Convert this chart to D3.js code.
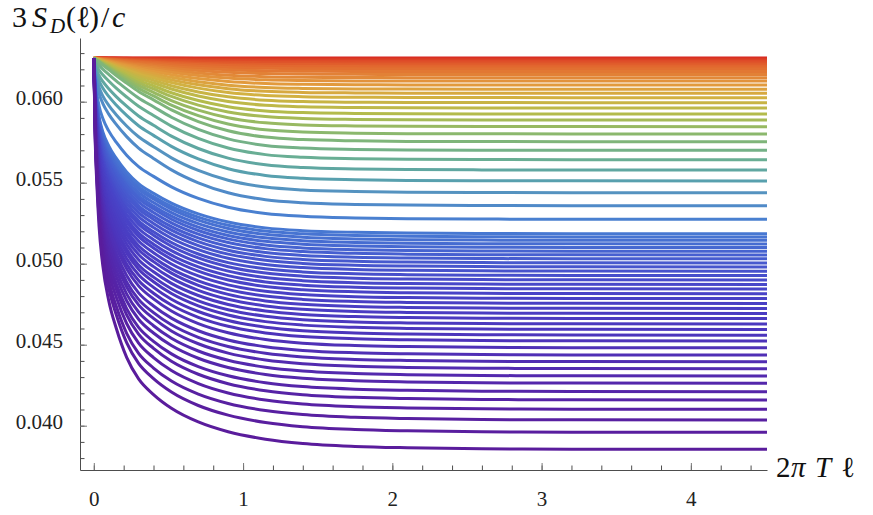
<!DOCTYPE html>
<html>
<head>
<meta charset="utf-8">
<script src="https://cdn.jsdelivr.net/npm/d3@7"></script>
<style>
    body { margin: 0; background: #fff; }
    svg { display: block; }
    text { font-family: "Liberation Serif", "DejaVu Serif", serif; }
</style>
</head>
<body>
<script>
let plateauLow = [0.03854, 0.03959, 0.04035, 0.04101, 0.04159, 0.04210, 0.04262, 0.04307, 0.04352, 0.04395,
    0.04436, 0.04481, 0.04523, 0.04559, 0.04594, 0.04628, 0.04661, 0.04693, 0.04724, 0.04755,
    0.04785, 0.04815, 0.04844, 0.04872, 0.04900, 0.04927, 0.04954, 0.04980, 0.05005, 0.05030,
    0.05054, 0.05077, 0.05100, 0.05122, 0.05144, 0.05165, 0.05185];
let plateauHigh = [0.05274, 0.05358, 0.05438, 0.05511, 0.05578, 0.05642, 0.05700, 0.05753, 0.05801, 0.05846,
    0.05887, 0.05924, 0.05961, 0.05994, 0.06025, 0.06052, 0.06077, 0.06103, 0.06127, 0.06148,
    0.06168, 0.06186, 0.06202, 0.06216, 0.06228, 0.06239, 0.06248, 0.06256, 0.06262, 0.06266, 0.06269];
// every curve starts from the same point at 2πTl = 0
let startValue = 0.06270;

// how soft each curve bends (0 = steep drop like the bottom curve, 1 = soft like the green ones)
let mixLow = [0.00, 0.01, 0.01, 0.02, 0.03, 0.03, 0.04, 0.05, 0.06, 0.06,
    0.07, 0.08, 0.08, 0.09, 0.10, 0.10, 0.11, 0.12, 0.13, 0.13,
    0.14, 0.15, 0.15, 0.16, 0.17, 0.17, 0.18, 0.19, 0.20, 0.20,
    0.21, 0.22, 0.22, 0.23, 0.24, 0.24, 0.25];
let mixHigh = [0.35, 0.50, 0.56, 0.64, 0.72, 0.82, 0.92, 1, 1, 1,
    1, 1, 1, 1, 1, 1, 1, 1, 1, 1,
    1, 1, 1, 1, 1, 1, 1, 1, 1, 1, 1];

// fraction of the drop still left
let profileX = [0, 0.01, 0.02, 0.035, 0.06, 0.1, 0.15, 0.22, 0.3, 0.4, 0.52, 0.7, 0.9, 1.15, 1.4, 1.75, 2.1, 2.6, 3.2, 4.51];
let profileSteep = [1, 0.78, 0.68, 0.57, 0.47, 0.38, 0.31, 0.235, 0.18, 0.14, 0.105, 0.07, 0.045, 0.026, 0.015, 0.0075, 0.004, 0.0015, 0.0005, 0];
let profileSoft = [1, 0.985, 0.97, 0.95, 0.915, 0.86, 0.79, 0.7, 0.6, 0.5, 0.38, 0.24, 0.13, 0.055, 0.025, 0.01, 0.004, 0.0015, 0.0005, 0];

let xTicks = [0, 1, 2, 3, 4];
let yTicks = [0.040, 0.045, 0.050, 0.055, 0.060];

let colorPos = [0, 0.10, 0.20, 0.33, 0.45, 0.537, 0.552, 0.582, 0.597, 0.627, 0.672, 0.716, 0.761, 0.806, 0.90, 1];
let colorHex = ["#5a1c9c", "#5328ad", "#4c36bd", "#4845c8", "#4660d0", "#4778d2", "#4a80d0", "#5593c0", "#58a0ae",
    "#69ae94", "#8bb86d", "#b3bb4c", "#d2b142", "#e29a3d", "#e2652e", "#d8231f"];

let main = function () {
    let width = 873, height = 515;

    let svg = d3.select("body").append("svg")
        .attr("width", width)
        .attr("height", height);

    let x = d3.scaleLinear().domain([-0.0925, 4.51]).range([80, 767]);
    let y = d3.scaleLinear().domain([0.037265, 0.063932]).range([470, 38]);

    let plateaus = plateauLow.concat(plateauHigh);
    let mixes = mixLow.concat(mixHigh);
    let n = plateaus.length;

    let color = d3.scaleLinear().domain(colorPos).range(colorHex).interpolate(d3.interpolateRgb);

    let curves = plateaus.map((p, i) => {
        let w = mixes[i];
        let amp = startValue - p;
        return {
            idx: i,
            pts: profileX.map((px, j) => [px, p + amp * ((1 - w) * profileSteep[j] + w * profileSoft[j])])
        };
    });

    let line = d3.line()
        .x(d => x(d[0]))
        .y(d => y(d[1]))
        .curve(d3.curveMonotoneX);

    svg.append("defs").append("clipPath").attr("id", "plotclip")
        .append("rect").attr("x", 80).attr("y", 30).attr("width", 687).attr("height", 440);

    // red on the bottom of the stack, purple drawn last
    svg.append("g")
        .attr("clip-path", "url(#plotclip)")
        .selectAll("path")
        .data(curves.slice().reverse())
        .enter().append("path")
        .attr("d", d => line(d.pts))
        .attr("fill", "none")
        .attr("stroke", d => color(d.idx / (n - 1)))
        .attr("stroke-width", 3);

    //axes, ticks pointing inward like Mathematica
    let axisCol = "#4d4d4d";

    let yMinor = d3.range(38, 64).map(k => k / 1000);
    let xMinor = d3.range(0, 23).map(k => k * 0.2);

    let gy = svg.append("g").attr("transform", "translate(80,0)");
    gy.call(d3.axisLeft(y).tickValues(yMinor).tickSize(-4.5).tickSizeOuter(0).tickFormat(""));
    gy.selectAll(".tick line").attr("stroke", axisCol);
    gy.select(".domain").attr("stroke", axisCol);
    let gyMaj = svg.append("g").attr("transform", "translate(80,0)");
    gyMaj.call(d3.axisLeft(y).tickValues(yTicks).tickSize(-7).tickSizeOuter(0).tickPadding(17).tickFormat(d3.format(".3f")));
    gyMaj.attr("font-family", null);
    gyMaj.select(".domain").remove();
    gyMaj.selectAll(".tick line").attr("stroke", "#777");
    gyMaj.selectAll("text")
        .attr("dy", "3px")
        .style("font-size", "21px")
        .attr("fill", "#222");

    let gx = svg.append("g").attr("transform", "translate(0,470)");
    gx.call(d3.axisBottom(x).tickValues(xMinor).tickSize(-4.5).tickSizeOuter(0).tickFormat(""));
    gx.selectAll(".tick line").attr("stroke", axisCol);
    gx.select(".domain").attr("stroke", axisCol);
    let gxMaj = svg.append("g").attr("transform", "translate(0,470)");
    gxMaj.call(d3.axisBottom(x).tickValues(xTicks).tickSize(-7).tickSizeOuter(0).tickPadding(21).tickFormat(d3.format("d")));
    gxMaj.attr("font-family", null);
    gxMaj.select(".domain").remove();
    gxMaj.selectAll(".tick line").attr("stroke", "#777");
    gxMaj.selectAll("text")
        .style("font-size", "21px")
        .attr("fill", "#222");

    // y label 3 S_D(l)/c, glyphs placed one by one
    let ylab = svg.append("text")
        .attr("y", 27)
        .style("font-size", "30px")
        .attr("fill", "#111");
    ylab.append("tspan").attr("x", 12).text("3");
    ylab.append("tspan").attr("x", 32).style("font-style", "italic").text("S");
    ylab.append("tspan").attr("x", 50).attr("dy", 6).style("font-style", "italic").style("font-size", "21px").text("D");
    ylab.append("tspan").attr("x", 66).attr("dy", -6).text("(");
    ylab.append("tspan").attr("x", 76).text("ℓ");
    ylab.append("tspan").attr("x", 89).text(")");
    ylab.append("tspan").attr("x", 101).text("/");
    ylab.append("tspan").attr("x", 112).style("font-style", "italic").text("c");

    // x label 2πTl
    let xlab = svg.append("text")
        .attr("y", 477)
        .style("font-size", "29px")
        .attr("fill", "#111");
    xlab.append("tspan").attr("x", 776).text("2");
    xlab.append("tspan").attr("x", 791).style("font-style", "italic").text("π");
    xlab.append("tspan").attr("x", 815).style("font-style", "italic").text("T");
    xlab.append("tspan").attr("x", 841).text("ℓ");
};

main();
</script>
</body>
</html>
